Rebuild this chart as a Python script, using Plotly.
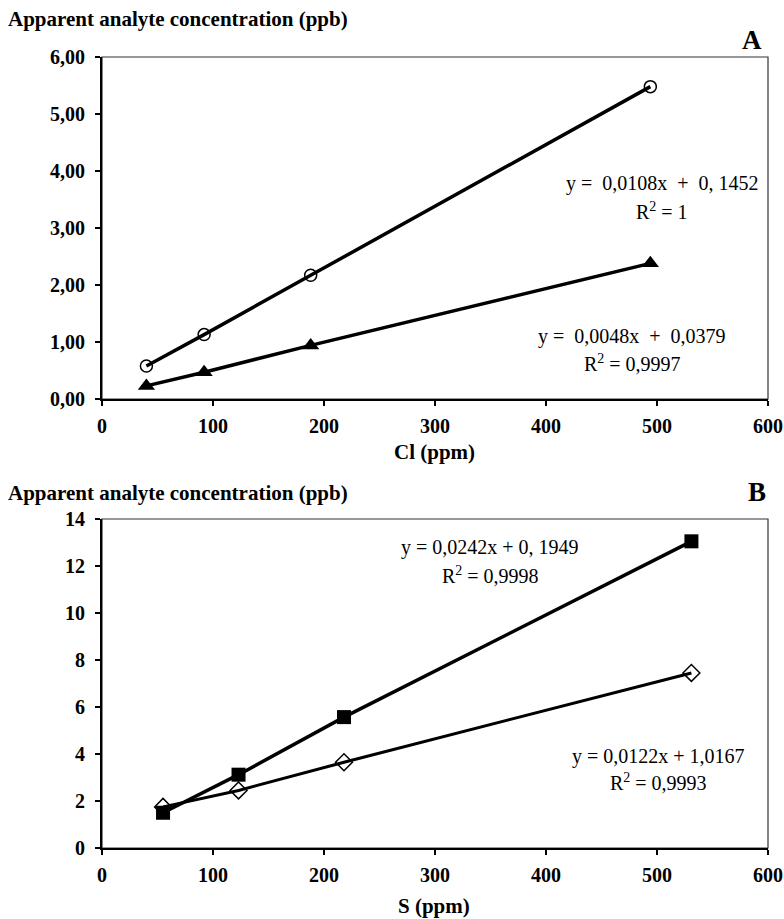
import plotly.graph_objects as go

W, H = 784, 919

# Panel A data
cl_x = [40, 92, 188, 494]
cl_circle = [0.58, 1.13, 2.17, 5.48]
cl_triangle = [0.23, 0.47, 0.94, 2.38]
# Panel B data
s_x = [55, 123, 218, 531]
s_square = [1.50, 3.12, 5.57, 13.05]
s_diamond = [1.75, 2.45, 3.65, 7.45]

a_ticks = [0, 1, 2, 3, 4, 5, 6]
a_ticktext = ["0,00", "1,00", "2,00", "3,00", "4,00", "5,00", "6,00"]
b_ticks = [0, 2, 4, 6, 8, 10, 12, 14]
x_ticks = [0, 100, 200, 300, 400, 500, 600]

FONT = "Liberation Serif, Times New Roman, serif"

def px(x):
    return x / W

def py(y):
    return 1 - y / H

x0, x1 = 102, 768
a_top, a_bot = 57, 399
b_top, b_bot = 519, 848

fig = go.Figure()

fig.add_trace(go.Scatter(x=cl_x, y=cl_circle, mode="lines+markers", xaxis="x", yaxis="y",
                         line=dict(color="black", width=3.5),
                         marker=dict(symbol="circle-open", size=12, color="black", line=dict(width=1.5))))
fig.add_trace(go.Scatter(x=cl_x, y=cl_triangle, mode="lines+markers", xaxis="x", yaxis="y",
                         line=dict(color="black", width=3.5),
                         marker=dict(symbol="triangle-up", size=15, color="black")))
fig.add_trace(go.Scatter(x=s_x, y=s_square, mode="lines+markers", xaxis="x2", yaxis="y2",
                         line=dict(color="black", width=3.5),
                         marker=dict(symbol="square", size=14, color="black")))
fig.add_trace(go.Scatter(x=s_x, y=s_diamond, mode="lines+markers", xaxis="x2", yaxis="y2",
                         line=dict(color="black", width=3),
                         marker=dict(symbol="diamond-open", size=13, color="black", line=dict(width=1.5))))

tickfont = dict(family=FONT, size=20, color="black", weight="bold")
axis_common = dict(showgrid=False, zeroline=False, showline=True, linecolor="black", linewidth=2,
                   ticks="outside", ticklen=5, tickcolor="black", tickwidth=1.5, tickfont=tickfont,
                   automargin=False)
xcommon = dict(axis_common, ticklabelstandoff=3)
ycommon = dict(axis_common, ticklabelstandoff=6)

fig.update_layout(
    width=W, height=H, margin=dict(l=0, r=0, t=0, b=0, autoexpand=False),
    paper_bgcolor="white", plot_bgcolor="white", showlegend=False,
    xaxis=dict(domain=[px(x0), px(x1)], range=[0, 600], tickvals=x_ticks, anchor="y", **xcommon),
    yaxis=dict(domain=[py(a_bot), py(a_top)], range=[0, 6], tickvals=a_ticks, ticktext=a_ticktext,
               anchor="x", **ycommon),
    xaxis2=dict(domain=[px(x0), px(x1)], range=[0, 600], tickvals=x_ticks, anchor="y2", **xcommon),
    yaxis2=dict(domain=[py(b_bot), py(b_top)], range=[0, 14], tickvals=b_ticks, anchor="x2", **ycommon),
)

# thin frame on top/right
for xr, yr in (("x domain", "y domain"), ("x2 domain", "y2 domain")):
    fig.add_shape(type="rect", xref=xr, yref=yr, x0=0, x1=1, y0=0, y1=1,
                  line=dict(color="#333", width=1.2), layer="below")

bold = dict(family=FONT, size=21, color="black", weight="bold")
reg = dict(family=FONT, size=20, color="black")

def ann(text, x, y, font, xanchor="center"):
    fig.add_annotation(text=text, x=px(x), y=py(y), xref="paper", yref="paper",
                       showarrow=False, font=font, xanchor=xanchor, yanchor="middle")

ann("Apparent analyte concentration (ppb)", 6, 19, bold, "left")
ann("A", 752, 40, dict(family=FONT, size=27, color="black", weight="bold"))
ann("Cl (ppm)", 434, 452, bold)
ann("y =  0,0108x  +  0, 1452", 662, 183, reg)
ann("R<sup>2</sup> = 1", 662, 211, reg)
ann("y =  0,0048x  +  0,0379", 632, 336, reg)
ann("R<sup>2</sup> = 0,9997", 632, 363, reg)

ann("Apparent analyte concentration (ppb)", 6, 493, bold, "left")
ann("B", 757, 492, dict(family=FONT, size=27, color="black", weight="bold"))
ann("S (ppm)", 434, 906, bold)
ann("y = 0,0242x + 0, 1949", 490, 547, reg)
ann("R<sup>2</sup> = 0,9998", 490, 575, reg)
ann("y = 0,0122x + 1,0167", 658, 756, reg)
ann("R<sup>2</sup> = 0,9993", 658, 782, reg)

fig.write_html("out.html")
